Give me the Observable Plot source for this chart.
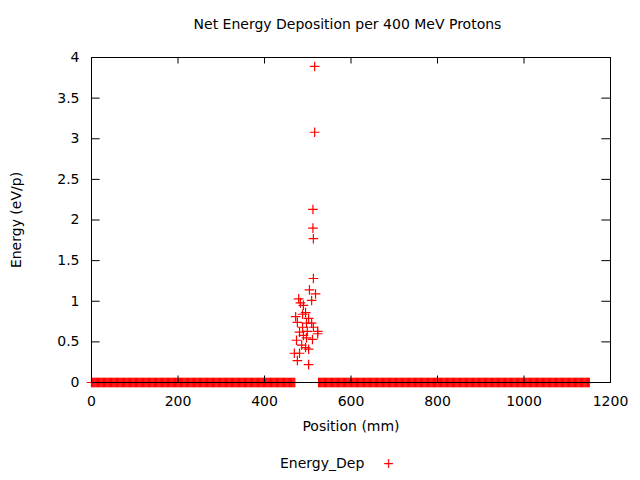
<!DOCTYPE html>
<html><head><meta charset="utf-8">
<script src="https://cdn.jsdelivr.net/npm/d3@7"></script>
<script src="https://cdn.jsdelivr.net/npm/@observablehq/plot@0.6"></script>
<style>
body{margin:0;background:#fff;font-family:"DejaVu Sans",sans-serif;}
#t{position:absolute;top:16px;left:0;width:640px;text-align:center;font-size:14px;padding-left:55px;box-sizing:border-box}
#c{position:absolute;top:45px;left:0}
#l{position:absolute;top:455px;left:280px;font-size:14px}
#l span{color:red;margin-left:14px}
</style></head><body>
<div id="t">Net Energy Deposition per 400 MeV Protons</div>
<div id="c"></div>
<div id="l">Energy_Dep <span>+</span></div>
<script>
const clusterX = [516,516,512,512,513,513,518,523,479,483,490,495,472,488,502,476,497,509,513,523,488,481,499,474,490,511,486,495,502,469,481,476,502,504,509,497];
const clusterE = [3.89,3.08,2.13,1.90,1.77,1.28,1.09,0.63,1.03,0.98,0.95,0.86,0.81,0.84,0.79,0.74,0.73,1.01,0.68,0.60,0.68,0.62,0.63,0.52,0.58,0.53,0.46,0.43,0.41,0.36,0.36,0.27,0.22,1.14,0.73,0.55];
const zeroLeft = d3.range(0, 472, 2);
const zeroRight = d3.range(525, 1152, 2);
const xTicks = [0,200,400,600,800,1000,1200];
const yTicks = [0,0.5,1,1.5,2,2.5,3,3.5,4];
const data = [
  ...clusterX.map((x,i)=>({x, e: clusterE[i]})),
  ...zeroLeft.map(x=>({x, e:0})),
  ...zeroRight.map(x=>({x, e:0}))
];
const plot = Plot.plot({
  width:640, height:400,
  marginLeft:91, marginRight:30, marginTop:12, marginBottom:63,
  style:{fontFamily:"DejaVu Sans", fontSize:"14px", color:"#000"},
  x:{domain:[0,1200], ticks:xTicks, tickFormat:d=>String(d), tickSize:0, tickPadding:14, label:"Position (mm)", labelArrow:false, labelAnchor:"center", labelOffset:48},
  y:{domain:[0,4], ticks:yTicks, tickFormat:d=>String(d), tickSize:0, tickPadding:12, label:"Energy (eV/p)", labelArrow:false, labelAnchor:"center", labelOffset:80},
  marks:[
    Plot.ruleY([0],{stroke:"#000"}),
    Plot.dot(data,{x:"x", y:"e", symbol:"plus", r:3.2, stroke:"red", strokeWidth:1.2}),
    Plot.ruleX(xTicks,{x:d=>d, y1:0, y2:0.08, stroke:"#000"}),
    Plot.ruleX(xTicks,{x:d=>d, y1:3.92, y2:4, stroke:"#000"}),
    Plot.ruleY(yTicks,{y:d=>d, x1:0, x2:20, stroke:"#000"}),
    Plot.ruleY(yTicks,{y:d=>d, x1:1180, x2:1200, stroke:"#000"}),
    Plot.frame({stroke:"#000"})
  ]
});
document.getElementById("c").append(plot);
</script></body></html>
